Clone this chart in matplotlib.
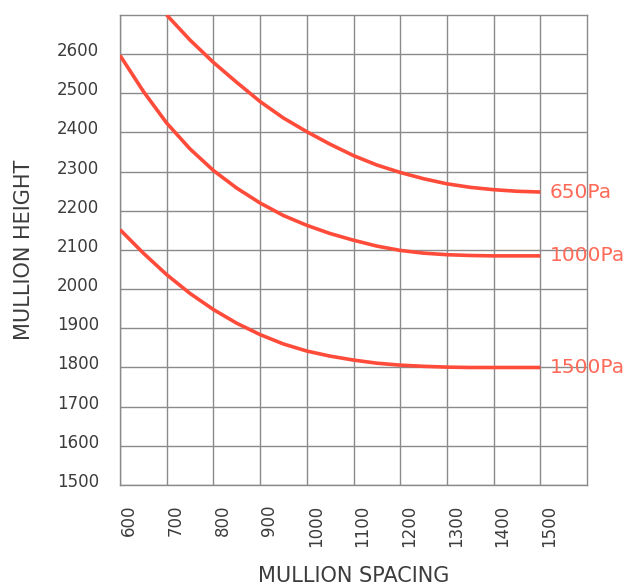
import matplotlib

matplotlib.use("Agg")

import matplotlib.pyplot as plt
import matplotlib.transforms as mtransforms

# mullion spacing (mm) and height readings per wind load
SPACING_650 = [700, 750, 800, 850, 900, 950, 1000, 1050, 1100, 1150, 1200,
               1250, 1300, 1350, 1400, 1450, 1500]
HEIGHT_650 = [2700, 2636, 2579, 2528, 2479, 2437, 2402, 2370, 2341, 2317, 2298,
              2282, 2269, 2260, 2254, 2250, 2248]

SPACING_FULL = [600, 650, 700, 750, 800, 850, 900, 950, 1000, 1050, 1100, 1150,
                1200, 1250, 1300, 1350, 1400, 1450, 1500]
HEIGHT_1000 = [2597, 2505, 2424, 2358, 2303, 2258, 2220, 2188, 2163, 2142, 2125,
               2110, 2099, 2092, 2088, 2086, 2085, 2085, 2085]
HEIGHT_1500 = [2152, 2092, 2037, 1989, 1948, 1913, 1884, 1860, 1842, 1829, 1819,
               1811, 1806, 1803, 1801, 1800, 1800, 1800, 1800]

SERIES = [
    ("650Pa", SPACING_650, HEIGHT_650),
    ("1000Pa", SPACING_FULL, HEIGHT_1000),
    ("1500Pa", SPACING_FULL, HEIGHT_1500),
]

X_TICKS = list(range(600, 1600, 100))
Y_TICKS = list(range(1500, 2700, 100))

LINE_COLOR = "#ff4b3a"
LABEL_COLOR = "#ff6a58"
GRID_COLOR = "#8a8a8a"
TEXT_COLOR = "#3c3c3c"

fig = plt.figure(figsize=(6.42, 5.86), dpi=100)
ax = fig.add_axes([120 / 642, 1 - 485 / 586, 467 / 642, 470 / 586])

for name, xs, ys in SERIES:
    ax.plot(xs, ys, color=LINE_COLOR, lw=2.6, solid_joinstyle="round",
            solid_capstyle="butt", zorder=3)
    ax.text(xs[-1] + 20, ys[-1], name, color=LABEL_COLOR, fontsize=14.5,
            va="center", ha="left", clip_on=False)

ax.set_xlim(600, 1600)
ax.set_ylim(1500, 2700)
ax.set_xticks(X_TICKS)
ax.set_yticks(Y_TICKS)
ax.grid(True, color=GRID_COLOR, lw=1.0)
ax.set_axisbelow(True)
for sp in ax.spines.values():
    sp.set_color(GRID_COLOR)
    sp.set_linewidth(1.0)

ax.tick_params(axis="both", length=0, colors=TEXT_COLOR, labelsize=12)
ax.tick_params(axis="y", pad=15)
ax.tick_params(axis="x", pad=14)
plt.setp(ax.get_xticklabels(), rotation=90, va="top", ha="center")

# nudge tick labels like in the original print
up = mtransforms.ScaledTranslation(0, 0.05, fig.dpi_scale_trans)
right = mtransforms.ScaledTranslation(0.09, 0, fig.dpi_scale_trans)
for lab in ax.get_yticklabels():
    lab.set_transform(lab.get_transform() + up)
for lab in ax.get_xticklabels():
    lab.set_transform(lab.get_transform() + right)

ax.set_xlabel("MULLION SPACING", fontsize=15, color=TEXT_COLOR, va="center")
ax.set_ylabel("MULLION HEIGHT", fontsize=15, color=TEXT_COLOR, va="center")
ax.xaxis.set_label_coords(
    0.5, 1 - 576 / 586,
    transform=mtransforms.blended_transform_factory(ax.transAxes, fig.transFigure))
ax.yaxis.set_label_coords(
    24 / 642, 0.5,
    transform=mtransforms.blended_transform_factory(fig.transFigure, ax.transAxes))

fig.savefig("out.png", dpi=100, facecolor="white")
